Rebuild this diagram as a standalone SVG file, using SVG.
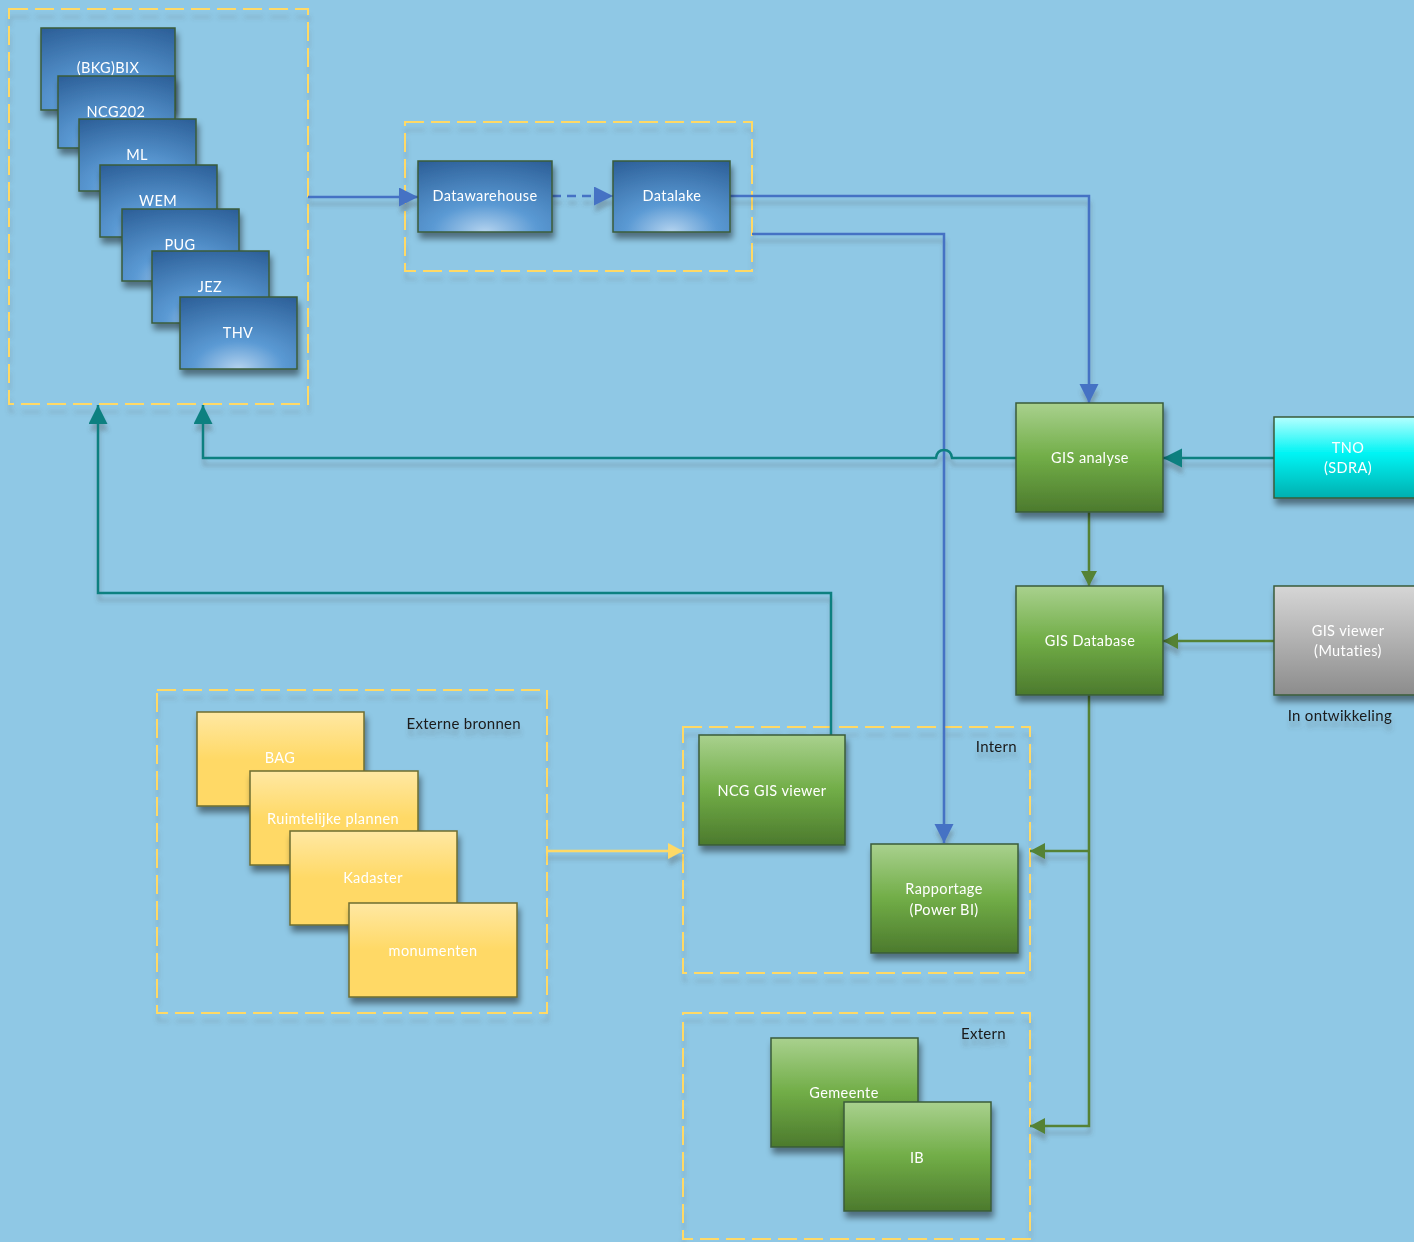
<svg xmlns="http://www.w3.org/2000/svg" width="1414" height="1242" viewBox="0 0 1414 1242">
<defs>
<radialGradient id="gBlue" cx="0.5" cy="1" r="1.1">
<stop offset="0" stop-color="#B4D3EF"/>
<stop offset="0.35" stop-color="#5B9AD4"/>
<stop offset="1" stop-color="#2C5F98"/>
</radialGradient>
<linearGradient id="gGreen" x1="0" y1="0" x2="0" y2="1">
<stop offset="0" stop-color="#A9D18E"/>
<stop offset="0.5" stop-color="#71AD47"/>
<stop offset="1" stop-color="#4C7A2D"/>
</linearGradient>
<linearGradient id="gYellow" x1="0" y1="0" x2="0" y2="1">
<stop offset="0" stop-color="#FFE8A3"/>
<stop offset="0.5" stop-color="#FFD966"/>
<stop offset="1" stop-color="#FFD966"/>
</linearGradient>
<linearGradient id="gCyan" x1="0" y1="0" x2="0" y2="1">
<stop offset="0" stop-color="#B5FFFF"/>
<stop offset="0.45" stop-color="#00F4F4"/>
<stop offset="1" stop-color="#00AFAF"/>
</linearGradient>
<linearGradient id="gGrey" x1="0" y1="0" x2="0" y2="1">
<stop offset="0" stop-color="#D6D6D6"/>
<stop offset="1" stop-color="#8C8C8C"/>
</linearGradient>
<filter id="sh" x="-20%" y="-20%" width="150%" height="160%">
<feDropShadow dx="2" dy="6" stdDeviation="3" flood-color="#000" flood-opacity="0.45"/>
</filter>
<filter id="shL" x="-10%" y="-10%" width="130%" height="140%">
<feDropShadow dx="1" dy="8" stdDeviation="2" flood-color="#555" flood-opacity="0.25"/>
</filter>
<filter id="shT" x="-10%" y="-30%" width="130%" height="200%">
<feDropShadow dx="1" dy="7" stdDeviation="2" flood-color="#444" flood-opacity="0.3"/>
</filter>
<marker id="aBlue" markerUnits="userSpaceOnUse" markerWidth="20" markerHeight="20" refX="19" refY="9.5" orient="auto"><path d="M0,0 L19,9.5 L0,19 z" fill="#4472C4"/></marker>
<marker id="aTeal" markerUnits="userSpaceOnUse" markerWidth="20" markerHeight="20" refX="19" refY="9.5" orient="auto"><path d="M0,0 L19,9.5 L0,19 z" fill="#0F8080"/></marker>
<marker id="aGreen" markerUnits="userSpaceOnUse" markerWidth="16" markerHeight="16" refX="15" refY="8" orient="auto"><path d="M0,0 L15,8 L0,16 z" fill="#548235"/></marker>
<marker id="aYellow" markerUnits="userSpaceOnUse" markerWidth="16" markerHeight="16" refX="15" refY="8" orient="auto"><path d="M0,0 L15,8 L0,16 z" fill="#FFD966"/></marker>
</defs>
<style>
.cont{fill:none;stroke:#FFD966;stroke-width:2;stroke-dasharray:19 7;}
.box{stroke:#3A5C3A;stroke-width:1.5;}
.blue{fill:url(#gBlue);}
.green{fill:url(#gGreen);}
.yellow{fill:url(#gYellow);stroke:#6E6E30;}
.cyan{fill:url(#gCyan);}
.grey{fill:url(#gGrey);}
.t{font-family:Lato,"Open Sans","Liberation Sans",sans-serif;font-size:14.5px;fill:#FFFFFF;text-anchor:middle;letter-spacing:0.4px;}
.lbl{font-family:Lato,"Open Sans","Liberation Sans",sans-serif;font-size:15px;fill:#1A1A1A;text-anchor:end;letter-spacing:0.3px;}
.c{fill:none;stroke-width:2.5;}
.cb{stroke:#4472C4;}
.ct{stroke:#0F8080;}
.cg{stroke:#548235;}
.cy{stroke:#FFD966;}
</style>
<rect x="0" y="0" width="1414" height="1242" fill="#8FC8E5"/>

<g id="containers" filter="url(#shL)">
<rect id="cont-sources" class="cont" x="9" y="9" width="299" height="395"/>
<rect id="cont-dw" class="cont" x="405" y="122" width="347" height="149"/>
<rect id="cont-extern-bronnen" class="cont" x="157" y="690" width="390" height="323"/>
<rect id="cont-intern" class="cont" x="683" y="727" width="347" height="246"/>
<rect id="cont-extern" class="cont" x="683" y="1013" width="347" height="226"/>
</g>

<g id="labels" filter="url(#shT)">
<text class="lbl" x="521" y="729">Externe bronnen</text>
<text class="lbl" x="1017" y="752">Intern</text>
<text class="lbl" x="1006" y="1039">Extern</text>
<text class="lbl" x="1392" y="721">In ontwikkeling</text>
</g>

<g id="connectors">
<g filter="url(#shT)">
<path class="c cb" d="M308,197 L418,197" marker-end="url(#aBlue)"/>
<path class="c cb" d="M552,196 L613,196" stroke-dasharray="9 6" marker-end="url(#aBlue)"/>
<path class="c cb" d="M730,196 L1089,196 L1089,403" marker-end="url(#aBlue)"/>
<path class="c cb" d="M752,234 L944,234 L944,843" marker-end="url(#aBlue)"/>
<path class="c ct" d="M1274,458 L1163,458" marker-end="url(#aTeal)"/>
<path class="c ct" d="M1016,458 L952,458 Q951,450 944,450 Q937,450 936,458 L203,458 L203,405" marker-end="url(#aTeal)"/>
<path class="c ct" d="M831,736 L831,593 L98,593 L98,405" marker-end="url(#aTeal)"/>
<path class="c cg" d="M1089,512 L1089,586" marker-end="url(#aGreen)"/>
<path class="c cg" d="M1274,641 L1163,641" marker-end="url(#aGreen)"/>
<path class="c cg" d="M1089,695 L1089,1126 L1030,1126" marker-end="url(#aGreen)"/>
<path class="c cg" d="M1089,851 L1030,851" marker-end="url(#aGreen)"/>
<path class="c cy" d="M547,851 L683,851" marker-end="url(#aYellow)"/>
</g>
</g>

<g id="node-bkgbix" filter="url(#sh)"><rect class="box blue" x="41" y="28" width="134" height="82"/><text class="t" x="108" y="73">(BKG)BIX</text></g>
<g id="node-ncg202" filter="url(#sh)"><rect class="box blue" x="58" y="76" width="117" height="72"/><text class="t" x="116" y="117">NCG202</text></g>
<g id="node-ml" filter="url(#sh)"><rect class="box blue" x="79" y="119" width="117" height="72"/><text class="t" x="137" y="160">ML</text></g>
<g id="node-wem" filter="url(#sh)"><rect class="box blue" x="100" y="165" width="117" height="72"/><text class="t" x="158" y="206">WEM</text></g>
<g id="node-pug" filter="url(#sh)"><rect class="box blue" x="122" y="209" width="117" height="72"/><text class="t" x="180" y="250">PUG</text></g>
<g id="node-jez" filter="url(#sh)"><rect class="box blue" x="152" y="251" width="117" height="72"/><text class="t" x="210" y="292">JEZ</text></g>
<g id="node-thv" filter="url(#sh)"><rect class="box blue" x="180" y="297" width="117" height="72"/><text class="t" x="238" y="338">THV</text></g>

<g id="node-datawarehouse" filter="url(#sh)"><rect class="box blue" x="418" y="161" width="134" height="71"/><text class="t" x="485" y="201">Datawarehouse</text></g>
<g id="node-datalake" filter="url(#sh)"><rect class="box blue" x="613" y="161" width="117" height="71"/><text class="t" x="672" y="201">Datalake</text></g>

<g id="node-gis-analyse" filter="url(#sh)"><rect class="box green" x="1016" y="403" width="147" height="109"/><text class="t" x="1090" y="463">GIS analyse</text></g>
<g id="node-tno" filter="url(#sh)"><rect class="box cyan" x="1274" y="417" width="150" height="81"/><text class="t" x="1348" y="453">TNO</text><text class="t" x="1348" y="473">(SDRA)</text></g>
<g id="node-gis-database" filter="url(#sh)"><rect class="box green" x="1016" y="586" width="147" height="109"/><text class="t" x="1090" y="646">GIS Database</text></g>
<g id="node-gis-viewer" filter="url(#sh)"><rect class="box grey" x="1274" y="586" width="150" height="109"/><text class="t" x="1348" y="636">GIS viewer</text><text class="t" x="1348" y="656">(Mutaties)</text></g>

<g id="node-bag" filter="url(#sh)"><rect class="box yellow" x="197" y="712" width="167" height="94"/><text class="t" x="280" y="763">BAG</text></g>
<g id="node-ruimtelijke" filter="url(#sh)"><rect class="box yellow" x="250" y="771" width="168" height="94"/><text class="t" x="333" y="824">Ruimtelijke plannen</text></g>
<g id="node-kadaster" filter="url(#sh)"><rect class="box yellow" x="290" y="831" width="167" height="94"/><text class="t" x="373" y="883">Kadaster</text></g>
<g id="node-monumenten" filter="url(#sh)"><rect class="box yellow" x="349" y="903" width="168" height="94"/><text class="t" x="433" y="956">monumenten</text></g>

<g id="node-ncg-gis-viewer" filter="url(#sh)"><rect class="box green" x="699" y="735" width="146" height="110"/><text class="t" x="772" y="796">NCG GIS viewer</text></g>
<g id="node-rapportage" filter="url(#sh)"><rect class="box green" x="871" y="844" width="147" height="109"/><text class="t" x="944" y="894">Rapportage</text><text class="t" x="944" y="915">(Power BI)</text></g>

<g id="node-gemeente" filter="url(#sh)"><rect class="box green" x="771" y="1038" width="147" height="109"/><text class="t" x="844" y="1098">Gemeente</text></g>
<g id="node-ib" filter="url(#sh)"><rect class="box green" x="844" y="1102" width="147" height="109"/><text class="t" x="917" y="1163">IB</text></g>
</svg>
